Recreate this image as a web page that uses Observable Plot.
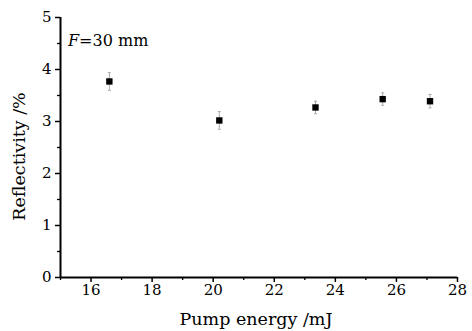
<!DOCTYPE html>
<html><head><meta charset="utf-8">
<script src="https://cdn.jsdelivr.net/npm/d3@7"></script>
<script src="https://cdn.jsdelivr.net/npm/@observablehq/plot@0.6"></script>
<style>
html,body{margin:0;padding:0;background:#fff;}
</style>
</head><body><div id="chart"></div>
<script>
const energy = [16.6, 20.2, 23.35, 25.55, 27.1];
const reflectivity = [3.77, 3.02, 3.27, 3.43, 3.39];
const errors = [0.17, 0.17, 0.12, 0.12, 0.13];
const xMajor = [16, 18, 20, 22, 24, 26, 28];
const xMinor = [15, 17, 19, 21, 23, 25, 27];
const yMajor = [0, 1, 2, 3, 4, 5];
const yMinor = [0.5, 1.5, 2.5, 3.5, 4.5];

const data = energy.map((x, i) => ({x, y: reflectivity[i], e: errors[i]}));
const font = "DejaVu Serif, Liberation Serif, serif";

const plot = Plot.plot({
  width: 472, height: 331,
  marginLeft: 60, marginRight: 15, marginTop: 17, marginBottom: 54,
  style: {fontFamily: font, fontSize: "15px", color: "#000", background: "#fff"},
  x: {domain: [15, 28]},
  y: {domain: [0, 5]},
  marks: [
    Plot.axisX({ticks: xMinor, tickSize: 3, tickFormat: () => "", strokeWidth: 1.3, label: null}),
    Plot.axisX({ticks: xMajor, tickSize: 5, tickPadding: 2, tickFormat: d => String(d), fontSize: 15, strokeWidth: 1.5, label: null}),
    Plot.axisY({ticks: yMinor, tickSize: 3, tickFormat: () => "", strokeWidth: 1.3, label: null}),
    Plot.axisY({ticks: yMajor, tickSize: 5, tickPadding: 4, tickFormat: d => String(d), fontSize: 15, strokeWidth: 1.5, label: null}),
    Plot.ruleY([0], {stroke: "#000", strokeWidth: 2}),
    Plot.ruleX([15], {stroke: "#000", strokeWidth: 2}),
    Plot.ruleX(data, {x: "x", y1: d => d.y - d.e, y2: d => d.y + d.e, stroke: "#aaa", strokeWidth: 1}),
    Plot.link(data, {x1: d => d.x - 0.05, x2: d => d.x + 0.05, y1: d => d.y + d.e, y2: d => d.y + d.e, stroke: "#aaa", strokeWidth: 1}),
    Plot.link(data, {x1: d => d.x - 0.05, x2: d => d.x + 0.05, y1: d => d.y - d.e, y2: d => d.y - d.e, stroke: "#aaa", strokeWidth: 1}),
    Plot.dot(data, {x: "x", y: "y", symbol: "square", r: 3.6, fill: "#000", stroke: "none"}),
    Plot.text(["Pump energy /mJ"], {frameAnchor: "bottom", dx: -3, dy: 47, fontSize: 17.5, fill: "#000"}),
    Plot.text(["Reflectivity /%"], {frameAnchor: "left", textAnchor: "middle", dx: -41, dy: 9, rotate: -90, fontSize: 17.5, fill: "#000"})
  ]
});
const svg = d3.select(plot);
const t = svg.append("text").attr("x", 68).attr("y", 46).attr("font-size", 16)
  .attr("fill", "#000").attr("text-anchor", "start").attr("font-family", font);
t.append("tspan").attr("font-style", "italic").text("F");
t.append("tspan").text("=30 mm");
document.getElementById("chart").appendChild(plot);
</script>
</body></html>
